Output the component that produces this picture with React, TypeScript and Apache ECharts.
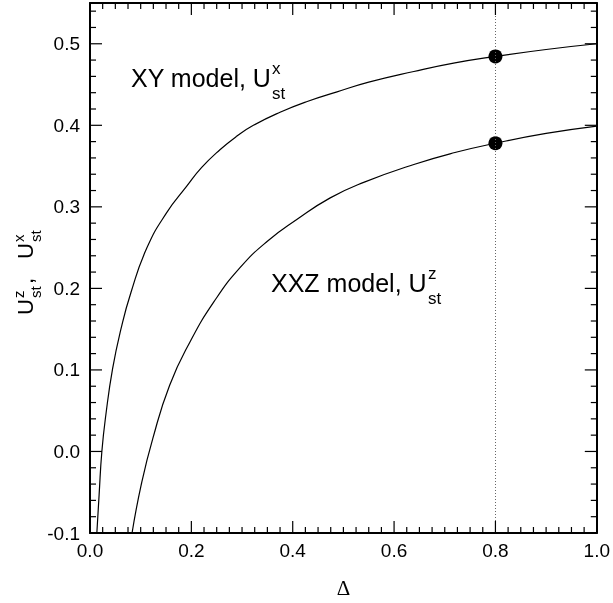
import React, { useEffect, useRef } from "react";
import * as echarts from "echarts";

// XY model curve, U_st^x vs Delta
const deltaXY = [0.0135, 0.018, 0.0234, 0.0313, 0.0446, 0.061, 0.0808, 0.1125, 0.151, 0.1905, 0.22, 0.2564, 0.29, 0.3224, 0.375, 0.43, 0.4875, 0.55, 0.639, 0.72, 0.8, 0.9, 1.0];
const uXY = [-0.1, -0.053, 0.0, 0.045, 0.1015, 0.15, 0.195, 0.25, 0.2926, 0.325, 0.348, 0.37, 0.3868, 0.4, 0.416, 0.4295, 0.441, 0.4529, 0.466, 0.4765, 0.4845, 0.493, 0.5];

// XXZ model curve, U_st^z vs Delta
const deltaXXZ = [0.083, 0.101, 0.124, 0.157, 0.197, 0.245, 0.296, 0.35, 0.408, 0.474, 0.54, 0.639, 0.72, 0.8, 0.9, 1.0];
const uXXZ = [-0.1, -0.041, 0.016, 0.081, 0.134, 0.184, 0.2254, 0.2578, 0.2844, 0.311, 0.33, 0.352, 0.3666, 0.378, 0.39, 0.399];

// marked points at Delta = 0.8
const markerDelta = 0.8;
const markerU = [0.4845, 0.378];

const xTickLabels = ["0.0", "0.2", "0.4", "0.6", "0.8", "1.0"];
const yTickLabels = ["-0.1", "0.0", "0.1", "0.2", "0.3", "0.4", "0.5"];
const xMinorStep = 0.025;
const yMinorStep = 0.02;

const X_MIN = 0;
const X_MAX = 1;
const Y_MIN = -0.1;
const Y_MAX = 0.55;

const SANS = "'Liberation Sans', Arial, sans-serif";
const SERIF = "'Liberation Serif', 'Times New Roman', serif";

export default function App() {
  const ref = useRef<HTMLDivElement>(null);

  useEffect(() => {
    if (!ref.current) return;
    const chart = echarts.init(ref.current, null, { renderer: "svg" });

    const mkLine = () => ({ show: true, onZero: false, lineStyle: { color: "#000", width: 2 } });

    const xAxisDef = (pos: "bottom" | "top", labels: boolean) => ({
      type: "value",
      position: pos,
      min: X_MIN,
      max: X_MAX,
      interval: 0.2,
      axisLine: mkLine(),
      axisTick: { show: false },
      splitLine: { show: false },
      axisLabel: labels
        ? {
            show: true,
            color: "#000",
            fontSize: 19,
            fontFamily: SANS,
            margin: 8,
            formatter: (v: number) => xTickLabels[Math.round(v / 0.2)] ?? "",
          }
        : { show: false },
    });

    const yAxisDef = (pos: "left" | "right", labels: boolean) => ({
      type: "value",
      position: pos,
      min: Y_MIN,
      max: Y_MAX,
      interval: 0.1,
      axisLine: mkLine(),
      axisTick: { show: false },
      splitLine: { show: false },
      axisLabel: labels
        ? {
            show: true,
            showMaxLabel: false,
            color: "#000",
            fontSize: 19,
            fontFamily: SANS,
            margin: 10,
            formatter: (v: number) =>
              Math.abs(v - Y_MAX) < 1e-6 ? "" : yTickLabels[Math.round((v - Y_MIN) / 0.1)] ?? "",
          }
        : { show: false },
    });

    // tick marks: [x, y, length(px), side] side 0=bottom,1=top,2=left,3=right
    const tickData: number[][] = [];
    const xMajor = xTickLabels.map(Number);
    const yMajor = yTickLabels.map(Number);
    xMajor.forEach((v) => {
      tickData.push([v, Y_MIN, 12, 0]);
      tickData.push([v, Y_MAX, 12, 1]);
    });
    for (let k = 1; k * xMinorStep < X_MAX - 1e-9; k++) {
      if (k % 8 === 0) continue;
      const v = +(k * xMinorStep).toFixed(4);
      tickData.push([v, Y_MIN, 6, 0]);
      tickData.push([v, Y_MAX, 6, 1]);
    }
    yMajor.forEach((v) => {
      tickData.push([X_MIN, v, 12, 2]);
      tickData.push([X_MAX, v, 12, 3]);
    });
    for (let k = 1; Y_MIN + k * yMinorStep < Y_MAX - 1e-9; k++) {
      if (k % 5 === 0) continue;
      const v = +(Y_MIN + k * yMinorStep).toFixed(4);
      tickData.push([X_MIN, v, 6, 2]);
      tickData.push([X_MAX, v, 6, 3]);
    }

    const xyData = deltaXY.map((d, i) => [d, uXY[i]]);
    const xxzData = deltaXXZ.map((d, i) => [d, uXXZ[i]]);
    const markers = markerU.map((u) => [markerDelta, u]);

    const mainFont = 25;
    const scriptFont = 17;

    const label = (x: number, y: number, main: string, sup: string, subX: number) => [
      {
        type: "text",
        x,
        y,
        style: { text: main, font: `${mainFont}px ${SANS}`, fill: "#000", verticalAlign: "middle", align: "left" },
      },
      {
        type: "text",
        x: subX,
        y: y - 10,
        style: { text: sup, font: `${scriptFont}px ${SANS}`, fill: "#000", verticalAlign: "middle", align: "left" },
      },
      {
        type: "text",
        x: subX,
        y: y + 15,
        style: { text: "st", font: `${scriptFont}px ${SANS}`, fill: "#000", verticalAlign: "middle", align: "left" },
      },
    ];

    const tMain = 22;
    const tScr = 15;
    const ytitle = {
      type: "group",
      x: 33,
      y: 269,
      rotation: Math.PI / 2,
      children: [
        { type: "text", x: -46, y: -8, style: { text: "U", font: `${tMain}px ${SANS}`, fill: "#000", verticalAlign: "middle" } },
        { type: "text", x: -29, y: -15, style: { text: "z", font: `${tScr}px ${SANS}`, fill: "#000", verticalAlign: "middle" } },
        { type: "text", x: -29, y: 2, style: { text: "st", font: `${tScr}px ${SANS}`, fill: "#000", verticalAlign: "middle" } },
        { type: "text", x: -15, y: -8, style: { text: ",", font: `${tMain}px ${SANS}`, fill: "#000", verticalAlign: "middle" } },
        { type: "text", x: 10, y: -8, style: { text: "U", font: `${tMain}px ${SANS}`, fill: "#000", verticalAlign: "middle" } },
        { type: "text", x: 27, y: -15, style: { text: "x", font: `${tScr}px ${SANS}`, fill: "#000", verticalAlign: "middle" } },
        { type: "text", x: 27, y: 2, style: { text: "st", font: `${tScr}px ${SANS}`, fill: "#000", verticalAlign: "middle" } },
      ],
    };

    chart.setOption({
      animation: false,
      grid: { left: 90, right: 16, top: 3, bottom: 68 },
      xAxis: [
        {
          ...xAxisDef("bottom", true),
          name: "Δ",
          nameLocation: "middle",
          nameGap: 44,
          nameTextStyle: { fontFamily: SERIF, fontSize: 21, color: "#000" },
        },
        xAxisDef("top", false),
      ],
      yAxis: [yAxisDef("left", true), yAxisDef("right", false)],
      series: [
        {
          type: "custom",
          name: "ticks",
          coordinateSystem: "cartesian2d",
          xAxisIndex: 0,
          yAxisIndex: 0,
          silent: true,
          clip: false,
          z: 10,
          data: tickData.map((t) => [t[0], t[1]]),
          renderItem: (params: any, api: any) => {
            const t = tickData[params.dataIndex];
            const p = api.coord([t[0], t[1]]);
            const len = t[2];
            const side = t[3];
            const w = 1.2;
            let rect;
            if (side === 0) rect = { x: p[0] - w / 2, y: p[1] - len, width: w, height: len };
            else if (side === 1) rect = { x: p[0] - w / 2, y: p[1], width: w, height: len };
            else if (side === 2) rect = { x: p[0], y: p[1] - w / 2, width: len, height: w };
            else rect = { x: p[0] - len, y: p[1] - w / 2, width: len, height: w };
            return {
              type: "rect",
              shape: rect,
              style: { fill: "#000" },
            };
          },
        },
        {
          type: "line",
          name: "XY",
          data: xyData,
          xAxisIndex: 0,
          yAxisIndex: 0,
          showSymbol: false,
          smooth: 0.5,
          lineStyle: { color: "#000", width: 1.2 },
          clip: true,
          markLine: {
            silent: true,
            symbol: ["none", "none"],
            label: { show: false },
            lineStyle: { color: "#666", width: 1, type: [1, 2] },
            data: [{ xAxis: markerDelta }],
          },
        },
        {
          type: "line",
          name: "XXZ",
          data: xxzData,
          xAxisIndex: 0,
          yAxisIndex: 0,
          showSymbol: false,
          smooth: 0.5,
          lineStyle: { color: "#000", width: 1.2 },
          clip: true,
        },
        {
          type: "scatter",
          data: markers,
          xAxisIndex: 0,
          yAxisIndex: 0,
          symbol: "circle",
          symbolSize: 14,
          itemStyle: { color: "#000", opacity: 1 },
        },
      ],
      graphic: [
        ...label(131, 78, "XY model, U", "x", 272),
        ...label(271, 283, "XXZ model, U", "z", 428),
        ytitle,
      ],
    });

    return () => chart.dispose();
  }, []);

  return <div ref={ref} style={{ position: "fixed", left: 0, top: 0, width: 613, height: 603 }} />;
}
